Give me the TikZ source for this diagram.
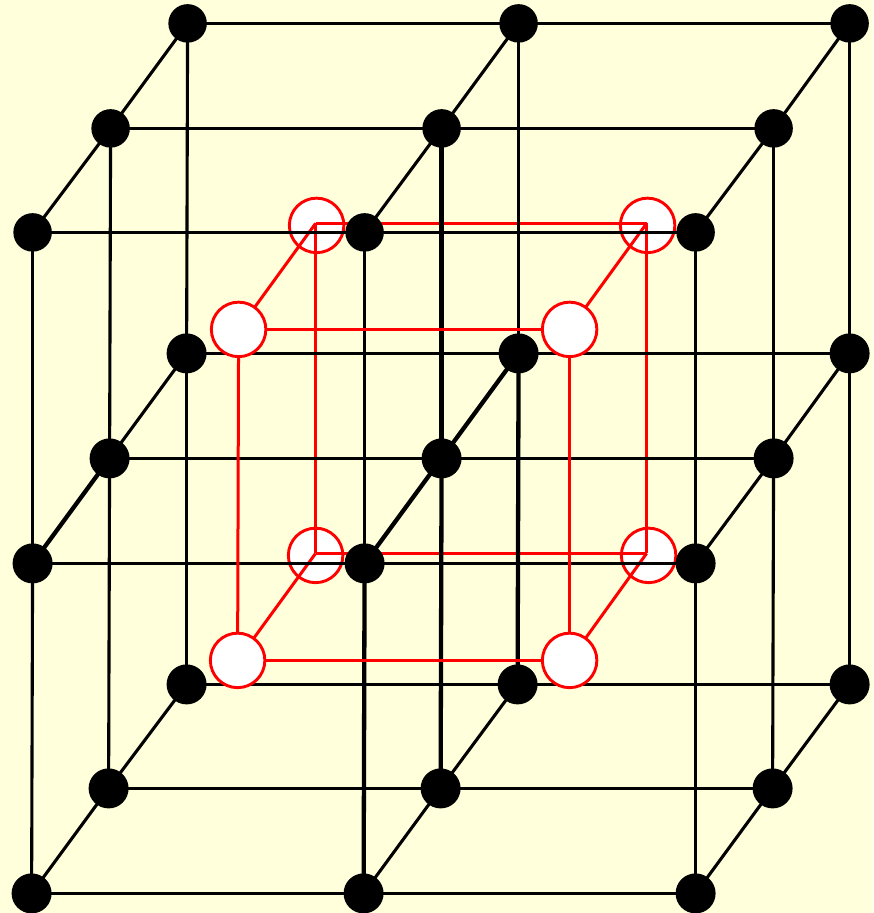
\documentclass[tikz,border=0pt]{standalone}
\definecolor{bgc}{RGB}{255,255,220}
\tikzset{
  x=1pt,y=-1pt,
  blk/.style={circle,fill=black,draw=none,minimum size=38.5pt,inner sep=0pt},
  blkbig/.style={circle,fill=black,draw=none,minimum size=40pt,inner sep=0pt},
  redc/.style={circle,fill=white,draw=red,line width=2.9pt,minimum size=54.5pt,inner sep=0pt},
  grid edge/.style={draw=black,line width=3.1pt},
  heavy edge/.style={draw=black,line width=4.3pt},
  red edge/.style={draw=red,line width=3pt}
}
\begin{document}
\begin{tikzpicture}
\useasboundingbox (0,0) rectangle (873,913);
\fill[bgc] (0,0) rectangle (873,913);
\begin{scope}[shift={(-0.4,0.4)}]
% back red cube
\node[redc] (rb1) at (317,225) {};
\node[redc] (rb2) at (648,225) {};
\node[redc] (rb3) at (316,555) {};
\node[redc] (rb4) at (649,555) {};
\coordinate (v1) at (316,223);
\coordinate (v2) at (647,223);
\coordinate (v3) at (316,553);
\coordinate (v4) at (647,553);
\coordinate (f1) at (239,329);
\coordinate (f2) at (570,329);
\coordinate (f3) at (238,660);
\coordinate (f4) at (570,660);
\draw[red edge] (v1) -- (v2);
\draw[red edge] (v3) -- (v4);
\draw[red edge] (v1) -- (v3);
\draw[red edge] (v2) -- (v4);
\draw[red edge] (v1) -- (f1);
\draw[red edge] (v2) -- (f2);
\draw[red edge] (v3) -- (f3);
\draw[red edge] (v4) -- (f4);
% black node positions
\foreach \n/\x/\y in {
 a1/188/23,a2/519/23,a3/850/23,
 b1/111/128,b2/442/128,b3/774/128,
 c1/33/232,c2/365/232,c3/696/232,
 d1/187/353,d2/519/353,d3/850/353,
 e1/110/458,e2/442/458,e3/774/458,
 f5/33/563,f6/365/563,f7/696/563,
 g1/187/684,g2/518/684,g3/850/684,
 h1/109/788,h2/441/788,h3/773/788,
 i1/32/893,i2/364/893,i3/696/893}
 {\coordinate (\n) at (\x,\y);}
% horizontal
\foreach \p/\q in {a1/a2,a2/a3,b1/b2,b2/b3,c1/c2,c2/c3,d1/d2,d2/d3,e1/e2,e2/e3,f5/f6,f6/f7,g1/g2,g2/g3,h1/h2,h2/h3,i1/i2,i2/i3}
 {\draw[grid edge] (\p) -- (\q);}
% vertical
\foreach \p/\q in {a1/d1,a2/d2,a3/d3,b1/e1,b3/e3,c1/f5,c2/f6,c3/f7,d1/g1,d3/g3,e1/h1,e3/h3,f5/i1,f7/i3}
 {\draw[grid edge] (\p) -- (\q);}
\foreach \p/\q in {b2/e2,e2/h2,d2/g2,f6/i2}
 {\draw[heavy edge] (\p) -- (\q);}
% depth
\foreach \p/\q in {a1/b1,b1/c1,a2/b2,b2/c2,a3/b3,b3/c3,d1/e1,d3/e3,g1/h1,h1/i1,g2/h2,h2/i2,g3/h3,h3/i3,e3/f7}
 {\draw[grid edge] (\p) -- (\q);}
\foreach \p/\q in {d2/e2,e2/f6,e1/f5}
 {\draw[heavy edge] (\p) -- (\q);}
% black nodes
\foreach \n in {a1,a2,a3,b1,b2,b3,c1,c2,c3}
 {\node[blk] (n\n) at (\n) {};}
\foreach \n in {d1,d2,d3,e1,e2,e3,f5,f6,f7,g1,g2,g3,h1,h2,h3,i1,i2,i3}
 {\node[blkbig] (n\n) at (\n) {};}
% front red cube
\draw[red edge] (f1) -- (f2);
\draw[red edge] (f3) -- (f4);
\draw[red edge] (f1) -- (f3);
\draw[red edge] (f2) -- (f4);
\node[redc] (rf1) at (f1) {};
\node[redc] (rf2) at (f2) {};
\node[redc] (rf3) at (f3) {};
\node[redc] (rf4) at (f4) {};
\end{scope}
\end{tikzpicture}
\end{document}
